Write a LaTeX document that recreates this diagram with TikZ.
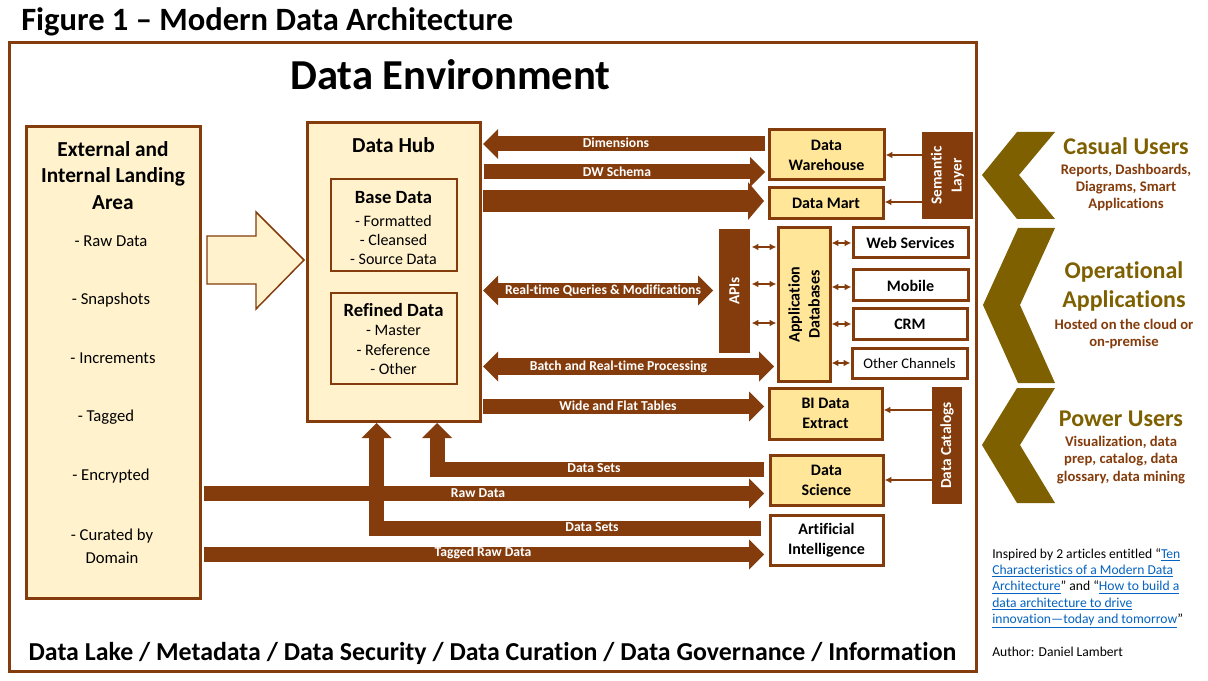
\documentclass[tikz,border=0pt]{standalone}
\usepackage{fontspec}
\setmainfont{Carlito}[Ligatures=CommonOff]
\usetikzlibrary{arrows.meta}
\definecolor{brn}{HTML}{843C0C}
\definecolor{cream}{HTML}{FFF2CC}
\definecolor{yel}{HTML}{FFE699}
\definecolor{olv}{HTML}{7F6000}
\definecolor{lnk}{HTML}{0563C1}
\newcommand\fsz[2]{\fontsize{#1pt}{#2pt}\selectfont}
\newcommand\mybox[7]{\node[#6, minimum width={(#4-#2)*0.75pt}, minimum height={(#5-#3)*0.75pt}] (#1) at ({(#2+#4)/2},{(#3+#5)/2}) {#7};}
\newcommand\lk[1]{{\color{lnk}\underline{#1}}}
\tikzset{
  Bt/.tip={Triangle[width=22.5pt,length=11.25pt,line width=0pt 0 0]},
  Mt/.tip={Triangle[width=28.5pt,length=12pt,line width=0pt 0 0]},
  St/.tip={Latex[length=5pt,width=5pt]},
}
\begin{document}
\begin{tikzpicture}[x=0.75pt,y=-0.75pt,
  frame/.style={draw=brn, line width=2.25pt, inner sep=0pt, outer sep=0pt},
  thinframe/.style={draw=brn, line width=0.9pt, inner sep=0pt, outer sep=0pt},
  creambox/.style={frame, fill=cream},
  yelbox/.style={frame, fill=yel},
  whitebox/.style={frame, fill=white},
  darkbox/.style={fill=brn, inner sep=0pt, outer sep=0pt},
  txt/.style={inner sep=0pt, outer sep=0pt, align=center},
  boxlbl/.style={txt, font=\bfseries\fsz{12}{15}},
  darklbl/.style={txt, text=white, font=\bfseries\fsz{11.5}{15}, rotate=90},
  arlbl/.style={txt, text=white, font=\bfseries\fsz{10.25}{12}},
  bigarrow/.style={draw=brn, line width=11.25pt},
  thinarrow/.style={draw=brn, line width=1.1pt},
]
\useasboundingbox (0,0) rectangle (1208,681);
\fill[white] (0,0) rectangle (1208,681);

% title and frame
\node[anchor=base west, inner sep=0pt, font=\bfseries\fsz{24.4}{28}] (title) at (21,31) {Figure 1 – Modern Data Architecture};
\mybox{env}{9}{43}{976}{671}{frame}{}
\node[anchor=base, inner sep=0pt, font=\bfseries\fsz{32}{36}] (envt) at (450.5,90) {Data Environment};
\node[anchor=base, inner sep=0pt, font=\bfseries\fsz{19.4}{22}] (bottom) at (492.5,660) {Data Lake / Metadata / Data Security / Data Curation / Data Governance / Information};

% landing area
\mybox{land}{26}{127}{200}{598}{creambox}{}
\node[txt, font=\bfseries\fsz{16}{19.9}] (landt) at (113,175.5) {External and\\Internal Landing\\Area};
\node[txt, font=\fsz{12.5}{17}] (i1) at (111,241) {- Raw Data};
\node[txt, font=\fsz{12.5}{17}] (i2) at (111,300) {- Snapshots};
\node[txt, font=\fsz{12.5}{17}] (i3) at (113,358) {- Increments};
\node[txt, font=\fsz{12.5}{17}] (i4) at (106,417) {- Tagged};
\node[txt, font=\fsz{12.5}{17}] (i5) at (111,476) {- Encrypted};
\node[txt, font=\fsz{12.5}{17.25}] (i6) at (112,546.5) {- Curated by\\Domain};

% hollow arrow
\draw[draw=brn, fill=cream, line width=1.1pt] (207,236) -- (256,236) -- (256,212) -- (304,260) -- (256,309) -- (256,284) -- (207,284) -- cycle;

% data hub
\mybox{hub}{307}{123}{480}{421}{creambox}{}
\node[txt, font=\bfseries\fsz{16}{19}] (hubt) at (393.5,145) {Data Hub};
\mybox{base}{331}{179}{457}{271}{thinframe}{}
\node[txt, font=\bfseries\fsz{14}{17}] (baset) at (393.5,198) {Base Data};
\node[txt, font=\fsz{12}{14.6}] (basei) at (393.5,240) {- Formatted\\- Cleansed\\- Source Data};
\mybox{ref}{331}{293}{457}{384}{thinframe}{}
\node[txt, font=\bfseries\fsz{14}{17}] (reft) at (393.5,310) {Refined Data};
\node[txt, font=\fsz{12}{14.6}] (refi) at (393.5,350) {- Master\\- Reference\\- Other};

% right boxes
\mybox{dw}{769}{130}{884}{180}{yelbox}{}
\node[boxlbl] (dwt) at (dw) {Data\\Warehouse};
\mybox{dm}{769}{188}{883}{219}{yelbox}{}
\node[boxlbl] (dmt) at (dm) {Data Mart};
\mybox{sem}{922}{132}{973}{219}{darkbox}{}
\node[darklbl] (semt) at (sem) {Semantic\\Layer};
\mybox{apis}{719}{229}{750}{353}{darkbox}{}
\node[darklbl] (apist) at (apis) {APIs};
\mybox{appdb}{778}{228}{830}{381}{yelbox}{}
\node[boxlbl, rotate=90] (appdbt) at (appdb) {Application\\Databases};
\mybox{ws}{853}{228}{968}{258}{whitebox}{}
\node[boxlbl] (wst) at (ws) {Web Services};
\mybox{mob}{853}{270}{968}{301}{whitebox}{}
\node[boxlbl] (mobt) at (mob) {Mobile};
\mybox{crm}{853}{309}{967}{340}{whitebox}{}
\node[boxlbl] (crmt) at (crm) {CRM};
\mybox{oc}{852}{349}{967}{378}{whitebox}{}
\node[txt, font=\fsz{11}{14}] (oct) at (oc) {Other Channels};
\mybox{bi}{769}{388}{882}{439}{yelbox}{}
\node[boxlbl] (bit) at (bi) {BI Data\\Extract};
\mybox{ds}{770}{455}{883}{505}{yelbox}{}
\node[boxlbl] (dst) at (ds) {Data\\Science};
\mybox{ai}{770}{515}{883}{565}{whitebox}{}
\node[boxlbl] (ait) at (ai) {Artificial\\Intelligence};
\mybox{cat}{932}{387}{962}{504}{darkbox}{}
\node[darklbl] (catt) at (cat) {Data Catalogs};

% big arrows
\draw[bigarrow, -{Bt}, shorten <=3pt, shorten >=2.25pt] (dw.west |- 0,144) -- (hub.east |- 0,144);
\draw[bigarrow, -{Bt}, shorten <=3pt, shorten >=3pt] (hub.east |- 0,172) -- (dw.west |- 0,172);
\draw[bigarrow, line width=16.5pt, -{Mt}, shorten <=2.25pt, shorten >=3.75pt] (hub.east |- 0,201) -- (dm.west |- 0,201);
\draw[bigarrow, {Bt}-{Bt}, shorten <=2.25pt, shorten >=4.5pt] (hub.east |- 0,290.5) -- (apis.west |- 0,290.5);
\draw[bigarrow, line width=12.75pt, {Bt}-{Bt}, shorten <=2.25pt, shorten >=3pt] (hub.east |- 0,366.5) -- (appdb.west |- 0,366.5);
\draw[bigarrow, -{Bt}, shorten <=2.25pt, shorten >=3.75pt] (hub.east |- 0,406.5) -- (bi.west |- 0,406.5);
\draw[bigarrow, -{Bt}, shorten <=4.5pt, shorten >=1.5pt] (ds.west |- 0,469) -| (hub.south -| 437,0);
\draw[bigarrow, -{Bt}, shorten <=3pt, shorten >=4.5pt] (land.east |- 0,493.5) -- (ds.west |- 0,493.5);
\draw[bigarrow, -{Bt}, shorten <=6.75pt, shorten >=1.5pt] (ai.west |- 0,528) -| (hub.south -| 376.5,0);
\draw[bigarrow, -{Bt}, shorten <=3pt, shorten >=4.5pt] (land.east |- 0,554.5) -- (ai.west |- 0,554.5);

% arrow labels
\node[arlbl] (l1) at (616,143) {Dimensions};
\node[arlbl] (l2) at (617,172) {DW Schema};
\node[arlbl] (l3) at (603,291) {Real-time Queries \& Modifications};
\node[arlbl] (l4) at (618.5,367) {Batch and Real-time Processing};
\node[arlbl] (l5) at (618,406) {Wide and Flat Tables};
\node[arlbl] (l6) at (594,468) {Data Sets};
\node[arlbl] (l7) at (478,493) {Raw Data};
\node[arlbl] (l8) at (592,527) {Data Sets};
\node[arlbl] (l9) at (483,553) {Tagged Raw Data};

% thin arrows
\draw[thinarrow, -{St}, shorten >=1.2pt] (sem.west |- 0,155) -- (dw.east |- 0,155);
\draw[thinarrow, -{St}, shorten >=1.2pt] (sem.west |- 0,202) -- (dm.east |- 0,202);
\draw[thinarrow, -{St}, shorten >=1.2pt] (cat.west |- 0,410) -- (bi.east |- 0,410);
\draw[thinarrow, -{St}, shorten >=1.2pt] (cat.west |- 0,480) -- (ds.east |- 0,480);
\draw[thinarrow, {St}-{St}, shorten <=1.2pt, shorten >=1.2pt] (apis.east |- 0,247) -- (appdb.west |- 0,247);
\draw[thinarrow, {St}-{St}, shorten <=1.2pt, shorten >=1.2pt] (apis.east |- 0,284) -- (appdb.west |- 0,284);
\draw[thinarrow, {St}-{St}, shorten <=1.2pt, shorten >=1.2pt] (apis.east |- 0,323) -- (appdb.west |- 0,323);
\draw[thinarrow, {St}-{St}, shorten <=1.2pt, shorten >=1.2pt] (appdb.east |- 0,243) -- (ws.west |- 0,243);
\draw[thinarrow, {St}-{St}, shorten <=1.2pt, shorten >=1.2pt] (appdb.east |- 0,287) -- (mob.west |- 0,287);
\draw[thinarrow, {St}-{St}, shorten <=1.2pt, shorten >=1.2pt] (appdb.east |- 0,324) -- (crm.west |- 0,324);
\draw[thinarrow, {St}-{St}, shorten <=1.2pt, shorten >=1.2pt] (appdb.east |- 0,363) -- (oc.west |- 0,363);

% chevrons
\fill[olv] (1017,132) -- (1055,132) -- (1019,175) -- (1055,219) -- (1017,219) -- (982,175) -- cycle;
\fill[olv] (1018,228) -- (1055,228) -- (1020,305) -- (1055,383) -- (1018,383) -- (983,305) -- cycle;
\fill[olv] (1017,388) -- (1055,388) -- (1020,445) -- (1055,503) -- (1017,503) -- (982,445) -- cycle;

\node[txt, text=olv, font=\bfseries\fsz{18}{22}] (cu) at (1126,146) {Casual Users};
\node[txt, text=brn, font=\bfseries\fsz{11}{13.1}] (cud) at (1126,187.5) {Reports, Dashboards,\\Diagrams, Smart\\Applications};
\node[txt, text=olv, font=\bfseries\fsz{18}{21.75}] (oa) at (1124,286.5) {Operational\\Applications};
\node[txt, text=brn, font=\bfseries\fsz{11}{13.1}] (oad) at (1124,334) {Hosted on the cloud or\\on-premise};
\node[txt, text=olv, font=\bfseries\fsz{18}{22}] (pu) at (1121,419) {Power Users};
\node[txt, text=brn, font=\bfseries\fsz{11}{13.1}] (pud) at (1121,460) {Visualization, data\\prep, catalog, data\\glossary, data mining};

% credits
\node[anchor=north west, align=left, inner sep=0pt, font=\fsz{10.2}{12.3}] (cred) at (992,548) {Inspired by 2 articles entitled “\lk{Ten}\\\lk{Characteristics of a Modern Data}\\\lk{Architecture}” and “\lk{How to build a}\\\lk{data architecture to drive}\\\lk{innovation—today and tomorrow}”};
\node[anchor=base west, inner sep=0pt, font=\fsz{10.2}{12.3}] (auth) at (992,656) {Author: Daniel Lambert};
\end{tikzpicture}
\end{document}
